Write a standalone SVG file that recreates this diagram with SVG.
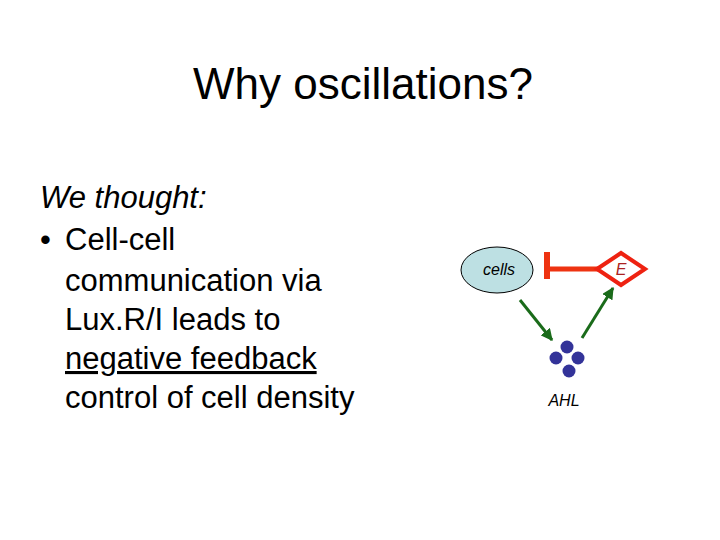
<svg xmlns="http://www.w3.org/2000/svg" width="720" height="540" viewBox="0 0 720 540">
<defs>
<style>
text{font-family:"Liberation Sans",Arial,sans-serif;fill:#000}
.b{font-size:31px}
.g{stroke:#1a6b1a;stroke-width:3;fill:none;marker-end:url(#ah)}
.d{fill:#333399}
</style>
<marker id="ah" viewBox="0 0 10 10" refX="9" refY="5" markerWidth="4" markerHeight="4" orient="auto"><path d="M0,0L10,5L0,10z" fill="#1a6b1a"/></marker>
</defs>
<rect width="720" height="540" fill="#fff"/>
<text x="363" y="99" font-size="44" text-anchor="middle">Why oscillations?</text>
<g id="bullets">
<text class="b" x="40" y="208" font-style="italic">We thought:</text>
<text class="b" x="40" y="250">•</text>
<text class="b" x="65" y="250">Cell-cell</text>
<text class="b" x="65" y="291">communication via</text>
<text class="b" x="65" y="330">Lux.R/I leads to</text>
<text class="b" x="65" y="369" text-decoration="underline">negative feedback</text>
<text class="b" x="65" y="408">control of cell density</text>
</g>
<g id="connectors">
<line x1="549" y1="269" x2="598" y2="269" stroke="#ee3311" stroke-width="5"/>
<line x1="547" y1="252" x2="547" y2="279" stroke="#ee3311" stroke-width="6"/>
<line class="g" x1="520" y1="300" x2="552" y2="340"/>
<line class="g" x1="582" y1="338" x2="613" y2="288"/>
</g>
<g id="cells">
<ellipse cx="497" cy="270" rx="36" ry="23" fill="#bde0e3" stroke="#000" stroke-width="1"/>
<text x="499" y="275" font-size="16" font-style="italic" text-anchor="middle">cells</text>
</g>
<g id="E">
<path d="M597,269L621,253L645,269L621,285z" fill="#fff" stroke="#ee2211" stroke-width="4"/>
<text x="621" y="275" font-size="16" font-style="italic" text-anchor="middle" style="fill:#aa2222">E</text>
</g>
<g id="AHL">
<circle class="d" cx="567" cy="347" r="6.5"/>
<circle class="d" cx="556" cy="358" r="6.5"/>
<circle class="d" cx="578" cy="358" r="6.5"/>
<circle class="d" cx="569" cy="371" r="6.5"/>
<text x="564" y="406" font-size="16" font-style="italic" text-anchor="middle">AHL</text>
</g>
</svg>
